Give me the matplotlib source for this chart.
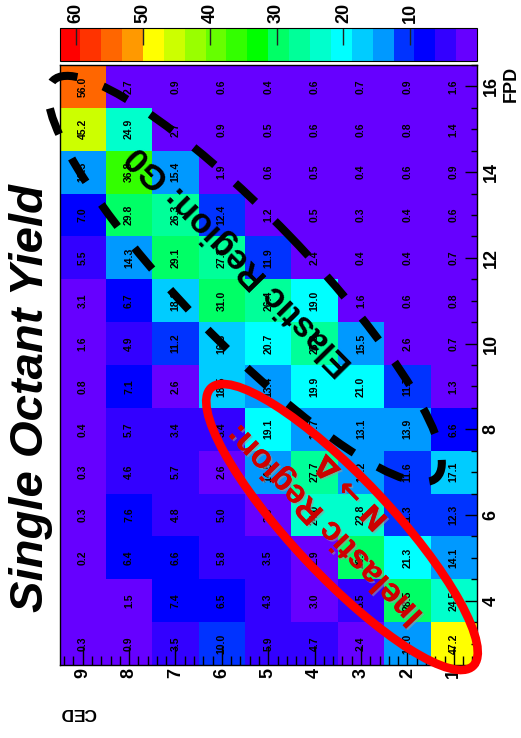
import numpy as np
import matplotlib
matplotlib.use("Agg")
import matplotlib.pyplot as plt
from matplotlib.colors import ListedColormap, BoundaryNorm
from matplotlib.patches import Ellipse
from matplotlib.ticker import MultipleLocator
import matplotlib.patheffects as pe

plt.rcParams['font.family'] = ['Liberation Sans', 'DejaVu Sans']

# CED bins left to right, FPD bins top to bottom
ced = [9, 8, 7, 6, 5, 4, 3, 2, 1]
fpd = [16, 15, 14, 13, 12, 11, 10, 9, 8, 7, 6, 5, 4, 3]

# single octant yield per (FPD, CED) bin, each list runs CED 9 -> 1
fpd16 = [56.0, 2.7, 0.9, 0.6, 0.4, 0.6, 0.7, 0.9, 1.6]
fpd15 = [45.2, 24.9, 2.7, 0.9, 0.5, 0.6, 0.6, 0.8, 1.4]
fpd14 = [13.5, 36.8, 15.4, 1.9, 0.6, 0.5, 0.4, 0.6, 0.9]
fpd13 = [7.0, 29.8, 26.3, 12.4, 1.2, 0.5, 0.3, 0.4, 0.6]
fpd12 = [5.5, 14.3, 29.1, 27.3, 11.9, 2.4, 0.4, 0.4, 0.7]
fpd11 = [3.1, 6.7, 18.2, 31.0, 26.4, 19.0, 1.6, 0.6, 0.8]
fpd10 = [1.6, 4.9, 11.2, 16.3, 20.7, 25.8, 15.5, 2.6, 0.7]
fpd9 = [0.8, 7.1, 2.6, 18.5, 13.4, 19.9, 21.0, 11.7, 1.3]
fpd8 = [0.4, 5.7, 3.4, 5.4, 19.1, 13.7, 13.1, 13.9, 6.6]
fpd7 = [0.3, 4.6, 5.7, 2.6, 14.5, 27.7, 13.2, 11.6, 17.1]
fpd6 = [0.3, 7.6, 4.8, 5.0, 2.0, 24.0, 22.8, 11.3, 12.3]
fpd5 = [0.2, 6.4, 6.6, 5.8, 3.5, 2.9, 29.4, 21.3, 14.1]
fpd4 = [0.0, 1.5, 7.4, 6.5, 4.3, 3.0, 5.5, 28.5, 24.5]
fpd3 = [0.3, 0.9, 3.5, 10.0, 5.9, 4.7, 2.4, 13.0, 47.2]

cbar_ticks = [10, 20, 30, 40, 50, 60]

grid = np.array([fpd16, fpd15, fpd14, fpd13, fpd12, fpd11, fpd10,
                 fpd9, fpd8, fpd7, fpd6, fpd5, fpd4, fpd3])

# ROOT style rainbow palette, 20 contour levels
palette = ['#6600FF', '#3300FF', '#0000FF', '#0033FF', '#0099FF',
           '#00CCFF', '#00FFFF', '#00FFCC', '#00FF99', '#00FF66',
           '#00FF00', '#33FF00', '#66FF00', '#99FF00', '#CCFF00',
           '#FFFF00', '#FF9900', '#FF6600', '#FF3300', '#FF0000']
zmax = 62.5
levels = np.linspace(0, zmax, len(palette) + 1)
cmap = ListedColormap(palette)
norm = BoundaryNorm(levels, cmap.N)

W, H = 521, 738
fig = plt.figure(figsize=(W / 100, H / 100), dpi=100)

def px_box(x0, y0, x1, y1):
    return [x0 / W, 1 - y1 / H, (x1 - x0) / W, (y1 - y0) / H]

ax = fig.add_axes(px_box(59.5, 65, 477, 665))
ax.pcolormesh(ced, fpd, grid, cmap=cmap, norm=norm, shading='nearest')
ax.set_xlim(9.5, 0.5)
ax.set_ylim(2.5, 16.5)

for i, f in enumerate(fpd):
    for j, c in enumerate(ced):
        v = grid[i, j]
        if v > 0:
            ax.text(c, f, f"{v:.1f}", rotation=90, ha='center', va='center',
                    fontsize=7.5, fontweight='bold')

# CED axis along the bottom, FPD axis along the right
ax.xaxis.set_major_locator(MultipleLocator(1))
ax.xaxis.set_minor_locator(MultipleLocator(0.2))
ax.yaxis.set_major_locator(MultipleLocator(2))
ax.yaxis.set_minor_locator(MultipleLocator(0.5))
ax.yaxis.tick_right()
ax.tick_params(axis='x', which='major', direction='in', length=14, width=1,
               pad=2, labelsize=13, labelrotation=90)
ax.tick_params(axis='x', which='minor', direction='in', length=6.5, width=1)
ax.tick_params(axis='y', which='major', direction='in', length=9, width=1,
               pad=4, labelsize=13, labelrotation=90, left=False, right=True)
ax.tick_params(axis='y', which='minor', direction='in', length=4, width=1,
               left=False, right=True)
for lab in ax.get_xticklabels() + ax.get_yticklabels():
    lab.set_fontweight('bold')
for lab in ax.get_yticklabels():
    lab.set_va('center')
ax.tick_params(axis='x', top=False, which='both')
for s in ax.spines.values():
    s.set_linewidth(1.0)

# colour scale on top, high values on the left
cax = fig.add_axes(px_box(59.5, 27.5, 477, 61))
cb = fig.colorbar(ax.collections[0], cax=cax, orientation='horizontal',
                  ticks=cbar_ticks)
cax.set_xlim(zmax, 0)
cb.outline.set_linewidth(0.8)
cax.xaxis.set_ticks_position('top')
cax.xaxis.set_label_position('top')
cax.tick_params(axis='x', direction='in', length=12, width=1, pad=3,
                labelsize=13, labelrotation=90, color='#222222')
cax.minorticks_off()
for lab in cax.get_xticklabels():
    lab.set_fontweight('bold')

fig.text(43 / W, 1 - 398 / H, "Single Octant Yield", rotation=90,
         rotation_mode='anchor', ha='center', va='baseline',
         fontsize=34, fontweight='bold', style='italic')
fig.text(78 / W, 1 - 712 / H, "CED", rotation=180, ha='center', va='center',
         fontsize=12.5, fontweight='bold')
fig.text(511 / W, 1 - 84 / H, "FPD", rotation=90, ha='center', va='center',
         fontsize=13, fontweight='bold')

# region markers drawn in pixel space over the whole figure
ov = fig.add_axes([0, 0, 1, 1], zorder=5)
ov.set_xlim(0, W)
ov.set_ylim(H, 0)
ov.axis('off')
ov.patch.set_alpha(0)

ov.add_patch(Ellipse((245, 279), 552, 124, angle=46, fill=False,
                     edgecolor='black', lw=5.8, linestyle=(0, (3.4, 3.4)),
                     capstyle='butt'))
ov.text(240, 260, "Elastic Region: G0", rotation=134.5, rotation_mode='anchor',
        ha='center', va='center', fontsize=25, fontweight='bold', color='black')

ov.add_patch(Ellipse((342, 527), 382, 98, angle=46.7, fill=False,
                     edgecolor='#FF0000', lw=6.2))
shadow = [pe.withSimplePatchShadow(offset=(1.2, -1.2), shadow_rgbFace='#999999',
                                   alpha=0.6), pe.Normal()]
ov.text(325, 524, "Inelastic Region:", rotation=134, rotation_mode='anchor',
        ha='center', va='center', fontsize=24, fontweight='bold',
        color='#CC0000', path_effects=shadow)
ov.text(352, 492, "N \u2192 \u0394", rotation=134, rotation_mode='anchor',
        ha='center', va='center', fontsize=21, fontweight='bold',
        color='#CC0000', family='DejaVu Sans', path_effects=shadow)

fig.savefig("out.png", dpi=100)
